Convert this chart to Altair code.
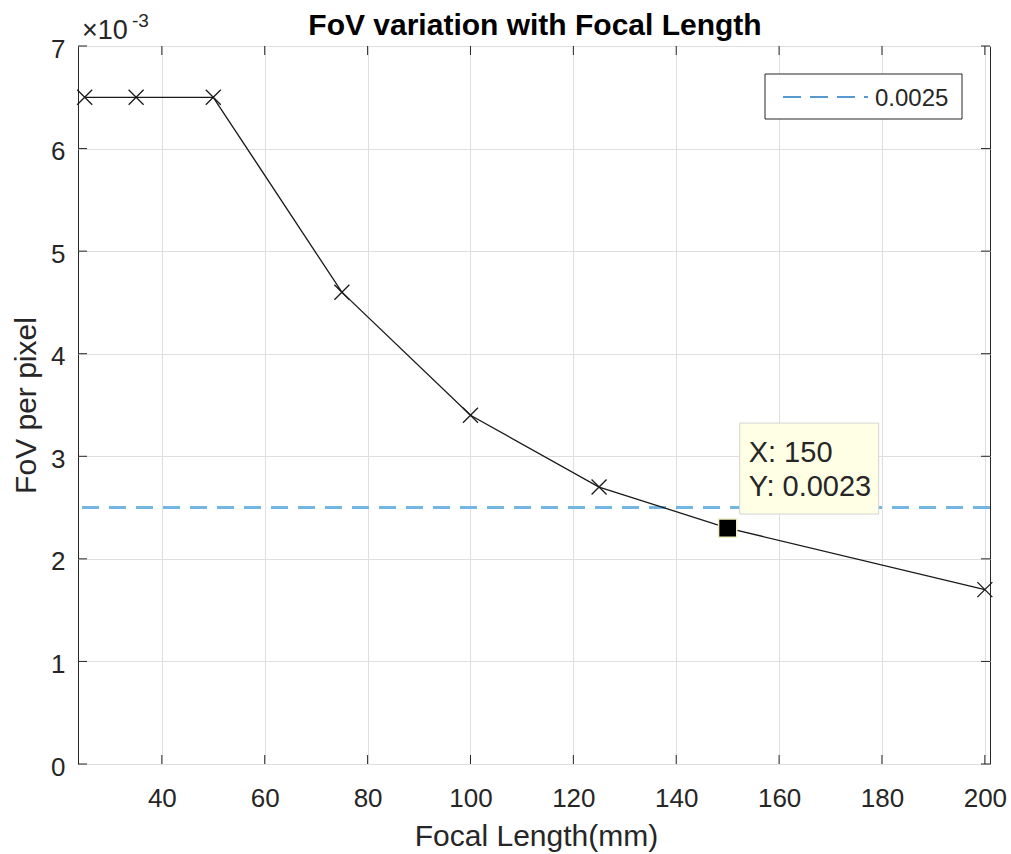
import altair as alt
import pandas as pd

# ---- data ----
focal_mm = [25, 35, 50, 75, 100, 125, 150, 200]
fov_per_pixel = [0.0065, 0.0065, 0.0065, 0.0046, 0.0034, 0.0027, 0.0023, 0.0017]
threshold = [0.0025]
threshold_label = ["0.0025"]
tip_x = [150]
tip_y = [0.0023]
x_ticks = [40, 60, 80, 100, 120, 140, 160, 180, 200]
y_ticks = [0, 0.001, 0.002, 0.003, 0.004, 0.005, 0.006, 0.007]
x_domain = [23.7, 201]
y_domain = [0, 0.007]

W, H = 912, 718
FONT = "Liberation Sans"
AXC = "#262626"

df = pd.DataFrame({"focal": focal_mm, "fov": fov_per_pixel})
thr_df = pd.DataFrame({"y": threshold, "label": threshold_label})
tip_df = pd.DataFrame({"x": tip_x, "y": tip_y,
                       "lx": [f"X: {v}" for v in tip_x],
                       "ly": [f"Y: {v}" for v in tip_y]})
xt_df = pd.DataFrame({"t": x_ticks})
yt_df = pd.DataFrame({"t": y_ticks})

xs = alt.Scale(domain=x_domain, nice=False, zero=False)
ys = alt.Scale(domain=y_domain, nice=False, zero=False)

x_axis = alt.Axis(values=x_ticks, title="Focal Length(mm)", grid=True,
                  labelPadding=21, titleX=458, titleY=81,
                  titleBaseline="alphabetic", titleAlign="center")
y_axis = alt.Axis(values=y_ticks, title="FoV per pixel", grid=True,
                  labelExpr="format(datum.value*1000, 'd')",
                  labelPadding=13, labelOffset=3,
                  titleAngle=270, titleX=-43, titleY=359,
                  titleBaseline="alphabetic", titleAlign="center")

# invisible base that carries the axes
base_axes = alt.Chart(df).mark_point(opacity=0).encode(
    x=alt.X("focal:Q", scale=xs, axis=x_axis),
    y=alt.Y("fov:Q", scale=ys, axis=y_axis),
)

thr_line = alt.Chart(thr_df).mark_rule(
    color="#72b6e4", strokeWidth=3, strokeDash=[17, 10]
).encode(y=alt.Y("y:Q", scale=ys))

line = alt.Chart(df).mark_line(color="#1a1a1a", strokeWidth=1.3).encode(
    x=alt.X("focal:Q", scale=xs), y=alt.Y("fov:Q", scale=ys))

markers = alt.Chart(df).mark_point(
    shape="M-1,-1L1,1M1,-1L-1,1", size=225, filled=False,
    color="#1a1a1a", strokeWidth=1.3, opacity=1
).encode(x=alt.X("focal:Q", scale=xs), y=alt.Y("fov:Q", scale=ys))

# inward ticks
tick_color = AXC
xt_bottom = alt.Chart(xt_df).mark_rule(color=tick_color, strokeWidth=1).encode(
    x=alt.X("t:Q", scale=xs), y=alt.value(H), y2=alt.value(H - 9))
xt_top = alt.Chart(xt_df).mark_rule(color=tick_color, strokeWidth=1).encode(
    x=alt.X("t:Q", scale=xs), y=alt.value(0), y2=alt.value(9))
yt_left = alt.Chart(yt_df).mark_rule(color=tick_color, strokeWidth=1).encode(
    y=alt.Y("t:Q", scale=ys), x=alt.value(0), x2=alt.value(9))
yt_right = alt.Chart(yt_df).mark_rule(color=tick_color, strokeWidth=1).encode(
    y=alt.Y("t:Q", scale=ys), x=alt.value(W), x2=alt.value(W - 9))

# data tip
tip_box = alt.Chart(tip_df).mark_rect(
    fill="#ffffe6", stroke="#d4d4d4", strokeWidth=1,
    xOffset=12, x2Offset=151, yOffset=-105, y2Offset=-14
).encode(x=alt.X("x:Q", scale=xs), x2="x:Q",
         y=alt.Y("y:Q", scale=ys), y2="y:Q")
tip_marker = alt.Chart(tip_df).mark_point(
    shape="square", size=330, filled=True, fill="#000000",
    stroke="#f2efc4", strokeWidth=1.5, opacity=1
).encode(x=alt.X("x:Q", scale=xs), y=alt.Y("y:Q", scale=ys))
tip_text1 = alt.Chart(tip_df).mark_text(
    font=FONT, fontSize=29, color=AXC, align="left", baseline="alphabetic",
    dx=21, dy=-66
).encode(x=alt.X("x:Q", scale=xs), y=alt.Y("y:Q", scale=ys), text="lx:N")
tip_text2 = alt.Chart(tip_df).mark_text(
    font=FONT, fontSize=29, color=AXC, align="left", baseline="alphabetic",
    dx=21, dy=-32
).encode(x=alt.X("x:Q", scale=xs), y=alt.Y("y:Q", scale=ys), text="ly:N")

# legend
leg_box = alt.Chart(thr_df).mark_rect(
    fill="white", stroke=AXC, strokeWidth=1
).encode(x=alt.value(687), x2=alt.value(884), y=alt.value(28), y2=alt.value(73))
leg_line = alt.Chart(thr_df).mark_rule(
    color="#1f78c1", strokeWidth=1.6, strokeDash=[18, 9]
).encode(x=alt.value(705), x2=alt.value(790), y=alt.value(51))
leg_text = alt.Chart(thr_df).mark_text(
    font=FONT, fontSize=24, color=AXC, align="left", baseline="alphabetic"
).encode(x=alt.value(797), y=alt.value(60), text="label:N")

# title and exponent
title_txt = alt.Chart(thr_df).mark_text(
    font=FONT, fontSize=30, fontWeight="bold", color="#000000",
    align="center", baseline="alphabetic"
).encode(x=alt.value(457), y=alt.value(-11),
         text=alt.value("FoV variation with Focal Length"))
exp_main = alt.Chart(thr_df).mark_text(
    font=FONT, fontSize=27, color=AXC, align="left", baseline="alphabetic"
).encode(x=alt.value(4), y=alt.value(-7), text=alt.value("\u00d710"))
exp_sup = alt.Chart(thr_df).mark_text(
    font=FONT, fontSize=19, color=AXC, align="left", baseline="alphabetic"
).encode(x=alt.value(54), y=alt.value(-19), text=alt.value("-3"))

chart = alt.layer(
    base_axes, thr_line, line, markers,
    xt_bottom, xt_top, yt_left, yt_right,
    tip_box, tip_marker, tip_text1, tip_text2,
    leg_box, leg_line, leg_text,
    title_txt, exp_main, exp_sup,
).properties(
    width=W, height=H,
    autosize=alt.AutoSizeParams(type="none"),
    padding={"left": 78, "top": 46, "right": 21, "bottom": 90},
    background="white",
).configure_view(
    stroke=AXC, strokeWidth=1
).configure_axis(
    labelFont=FONT, labelFontSize=26, labelColor=AXC,
    titleFont=FONT, titleFontSize=30, titleColor=AXC, titleFontWeight="normal",
    gridColor="#dfdfdf", gridWidth=1, domain=False, ticks=False, tickSize=0,
)

chart.save("out.html", embed_options={"renderer": "svg", "actions": False})
